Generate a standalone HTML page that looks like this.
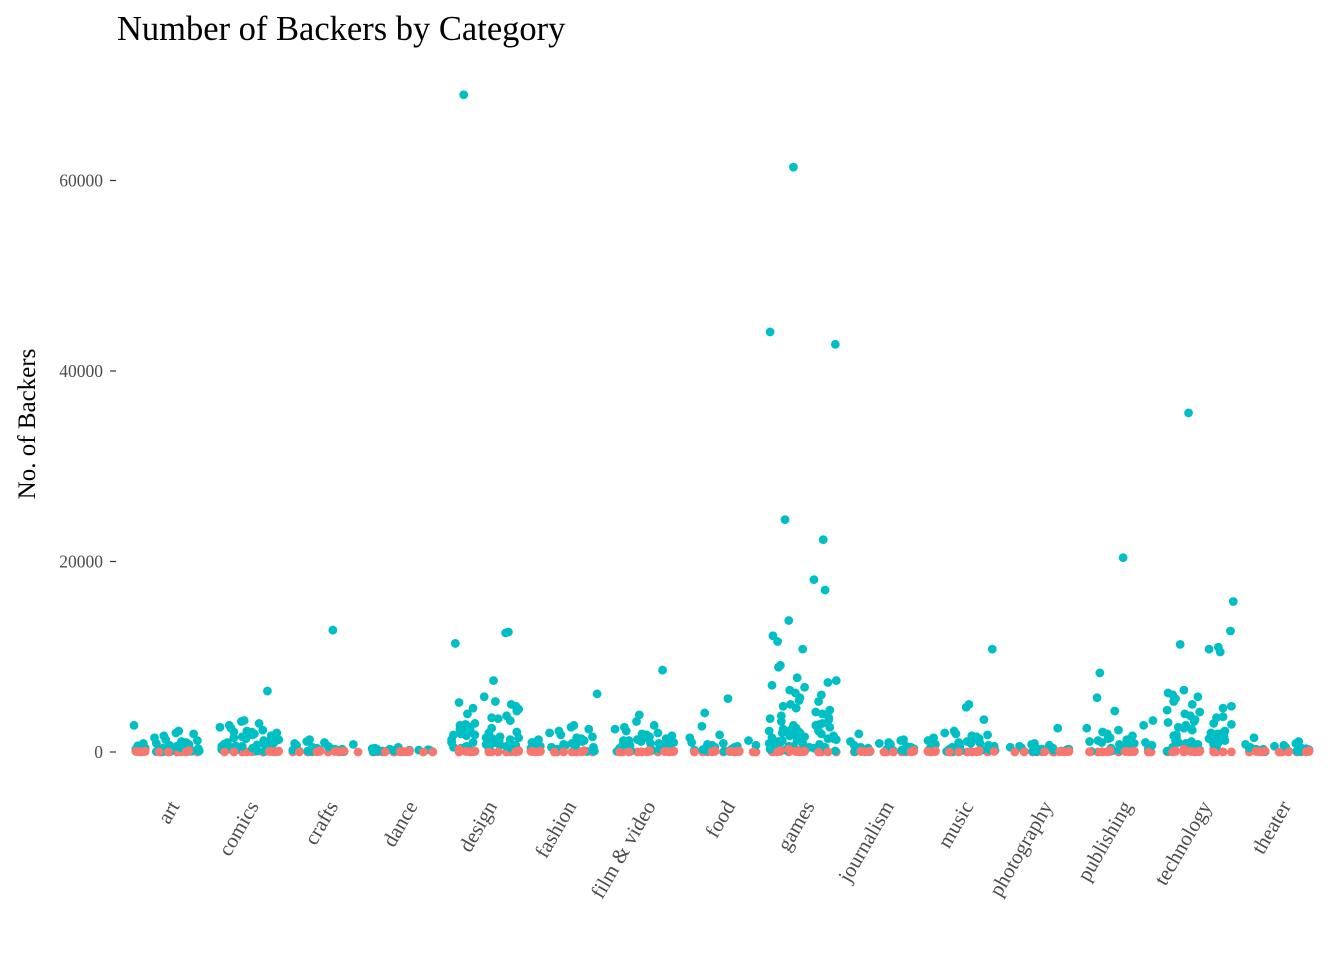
<!DOCTYPE html>
<html><head><meta charset="utf-8"><style>
html,body{margin:0;padding:0;background:#fff;}
svg{display:block;font-family:"Liberation Serif",serif;}
</style></head><body>
<svg id="chart" width="1344" height="960">
<text x="117" y="40" font-size="34.5" fill="#000">Number of Backers by Category</text>
<text transform="translate(35,424) rotate(-90)" text-anchor="middle" font-size="25" fill="#000">No. of Backers</text>
<g id="axes"></g><g id="marks"></g>
</svg>
<script>
const categories=["art","comics","crafts","dance","design","fashion","film & video","food","games","journalism","music","photography","publishing","technology","theater"];
const yTicks=[0,20000,40000,60000];
const successful=[
[2800,2200,2000,1900,1700,1500,1300,1200,1100,1000,900,800,700,650,600,500,450,400,350,300,250,200,150,120,100,80,60,50,40,30,300,500,700,200,400,900],
[6400,3300,3200,3000,2800,2600,2500,2300,2200,2100,2000,1900,1800,1700,1600,1500,1400,1300,1200,1100,1000,950,900,850,800,750,700,650,600,550,500,450,400,350,300,250,200,150,100,80,60,1500,1200,900,700,1000,1300,1700,2100,600,500,400],
[12800,1300,1100,1000,900,800,700,600,500,400,300,250,200,150,100,80,60,40,500,300,200],
[500,400,350,300,250,200,180,150,120,100,80,60,50,40,30,20,300,200,150,100],
[69000,12600,12500,11400,7500,5800,5300,5200,5000,4800,4600,4500,4300,4000,3800,3500,3300,3000,2800,2600,2500,2300,2200,2000,1900,1800,1700,1600,1500,1400,1300,1200,1100,1000,900,800,700,600,500,400,300,200,100,3600,2900,2400,1800,1300,900,600,2700,2100,1500,1000,700,400],
[6100,2800,2600,2400,2200,2000,1800,1600,1500,1400,1300,1200,1100,1000,900,800,700,600,500,400,300,250,200,150,100,60,1000,700,500,300],
[8600,3900,3200,2800,2600,2400,2200,2000,1900,1800,1700,1600,1500,1400,1300,1200,1100,1000,900,800,700,600,500,400,300,200,150,100,60,1200,900,700,500,300],
[5600,4100,2700,1800,1500,1200,1000,900,800,700,600,500,400,300,250,200,150,100,60,40,700,500,300],
[61400,44100,42800,24400,22300,18100,17000,13800,12200,11600,10800,9100,8900,7800,7500,7300,7000,6800,6500,6200,6000,5700,5400,5300,5000,4800,4600,4400,4200,4000,3800,3600,3400,3200,3000,2800,2600,2500,2400,2300,2200,2100,2000,1900,1800,1700,1600,1500,1400,1300,1200,1100,1000,900,800,700,600,500,400,300,200,100,3500,2800,2200,1700,1200,800,500,2900,2000,1400,900,600,300],
[1900,1300,1200,1100,1000,900,800,700,600,500,400,350,300,250,200,150,100,60,40,500,300],
[10800,5000,4700,3400,2200,2000,1900,1800,1700,1600,1500,1400,1300,1200,1100,1000,900,800,700,600,500,400,350,300,250,200,150,100,60,40,900,600,400,200],
[2500,900,800,700,600,500,450,400,350,300,250,200,150,100,80,60,40,300,200],
[20400,8300,5700,4300,3300,2800,2500,2300,2100,1900,1700,1500,1400,1300,1200,1100,1000,900,800,700,600,500,400,300,200,150,100,60,1000,700,400],
[35600,15800,12700,11300,11000,10800,10500,6500,6200,6000,5800,5600,5300,5000,4800,4600,4400,4200,4000,3800,3600,3400,3200,3000,2800,2600,2400,2200,2000,1900,1800,1700,1600,1500,1400,1300,1200,1100,1000,900,800,700,600,500,400,300,200,100,3700,2900,2300,1700,1200,800,500,3100,2500,1900,1400,1000],
[1500,1100,900,800,700,600,500,450,400,350,300,250,200,150,100,80,60,40,500,300]
];
const failed=[
[0,10,20,40,60,80,100,5,15,30,50,120,150,0,25],
[0,10,20,40,60,80,100,5,15,30,50,0],
[0,10,20,40,60,80,100,5,15,30,50,120,150,0,25,200],
[0,10,20,40,60,80,100,5,15,30,50,0,25],
[0,10,20,40,60,80,100,5,15,30,50,120,150,0,25,200,300],
[0,10,20,40,60,80,100,5,15,30,50,120,150,0,25],
[0,10,20,40,60,80,100,5,15,30,50,120,150,0,25,200],
[0,10,20,40,60,80,100,5,15,30,50,120,150,0,25],
[0,10,20,40,60,80,100,5,15,30,50,120,150,0,25,200,300,400],
[0,10,20,40,60,80,100,5,15,30,50,120,150,0,25,200],
[0,10,20,40,60,80,100,5,15,30,50,120,150,0,25],
[0,10,20,40,60,80,100,5,15,30,50,0,25],
[0,10,20,40,60,80,100,5,15,30,50,120,150,0,25,200],
[0,10,20,40,60,80,100,5,15,30,50,120,150,0,25,200,300,700],
[0,10,20,40,60,80,100,5,15,30,50,120,150,0,25,200]
];
const NS="http://www.w3.org/2000/svg";
const X0=168,DX=79.4,Y0=752,PXPER=190.5/20000;
function xScale(i){return X0+i*DX;}
function yScale(v){return Y0-v*PXPER;}
function jitter(i,k){return (((i*131+k*37+k*k*11)%73)/73-0.5)*68;}
const axes=document.getElementById('axes'),marks=document.getElementById('marks');
yTicks.forEach(t=>{
 const y=yScale(t);
 const ln=document.createElementNS(NS,'line');
 ln.setAttribute('x1',110);ln.setAttribute('x2',116);ln.setAttribute('y1',y);ln.setAttribute('y2',y);
 ln.setAttribute('stroke','#333');ln.setAttribute('stroke-width','1.2');
 
 
 axes.appendChild(ln);
 const tx=document.createElementNS(NS,'text');
 tx.setAttribute('x',103);tx.setAttribute('y',y+6);tx.setAttribute('text-anchor','end');
 tx.setAttribute('font-size','17.5');tx.setAttribute('fill','#4d4d4d');tx.textContent=t;
 
 
 axes.appendChild(tx);
});
categories.forEach((c,i)=>{
 const x=xScale(i);
 const tx=document.createElementNS(NS,'text');
 tx.setAttribute('transform','translate('+(x+12)+',806) rotate(-60)');
 tx.setAttribute('text-anchor','end');tx.setAttribute('font-size','21');tx.setAttribute('fill','#4d4d4d');
 tx.textContent=c;
 
 
 axes.appendChild(tx);
});
function dot(i,k,v,col,name){
 const ci=document.createElementNS(NS,'circle');
 ci.setAttribute('cx',xScale(i)+jitter(i,k));ci.setAttribute('cy',yScale(v));ci.setAttribute('r',4.4);
 ci.setAttribute('fill',col);
 
 
 marks.appendChild(ci);
}
failed.forEach((arr,i)=>arr.forEach((v,k)=>dot(i,k+7,v,'#F8766D','point-failed')));
successful.forEach((arr,i)=>arr.forEach((v,k)=>dot(i,k,v,'#00BFC4','point-successful')));
failed.forEach((arr,i)=>arr.forEach((v,k)=>{if(k%2===0)dot(i,k+40,v,'#F8766D','point-failed');}));
</script>
</body></html>
